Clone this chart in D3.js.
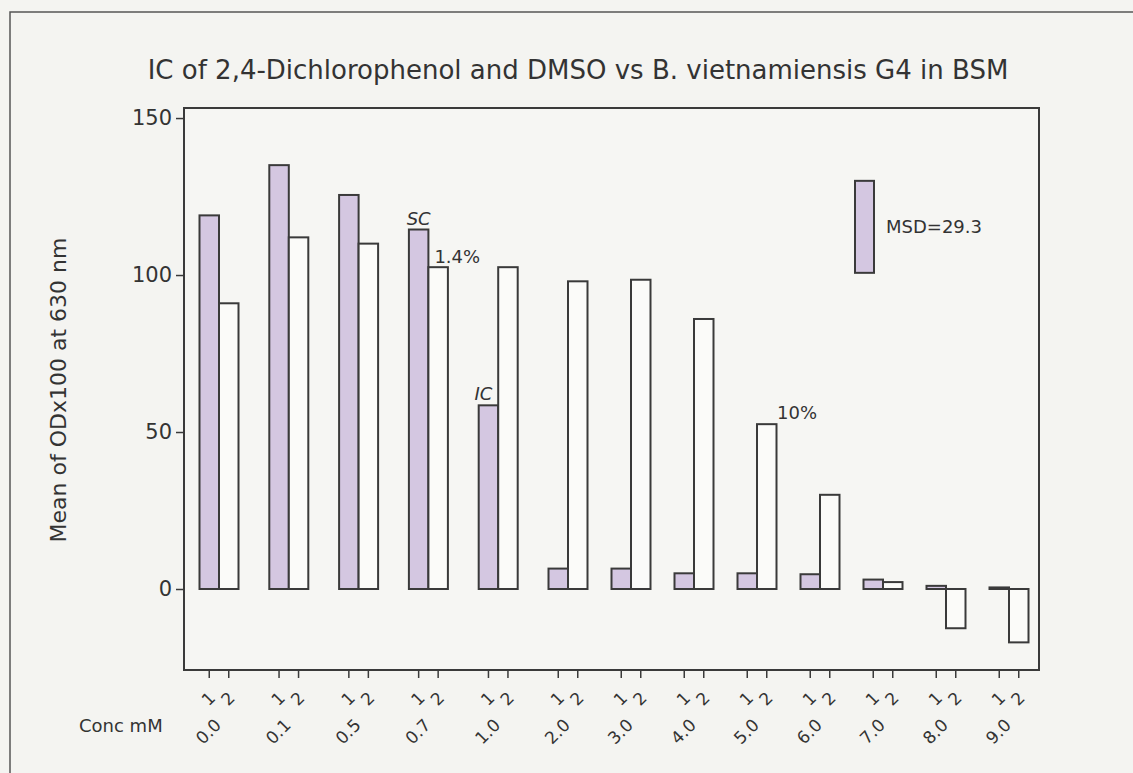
<!DOCTYPE html>
<html>
<head>
<meta charset="utf-8">
<script src="https://cdn.jsdelivr.net/npm/d3@7"></script>
<style>
	html, body { margin: 0; padding: 0; background: #f4f4f1; }
	svg { display: block; font-family: "DejaVu Sans", sans-serif; }
</style>
</head>
<body>
<div id="chart"></div>
<script>
// concentrations (mM) and the two series (1 = 2,4-DCP, 2 = DMSO)
var concs = ["0.0", "0.1", "0.5", "0.7", "1.0", "2.0", "3.0", "4.0", "5.0", "6.0", "7.0", "8.0", "9.0"];
var seriesKeys = ["1", "2"];
var series1 = [119, 135, 125.5, 114.5, 58.5, 6.5, 6.5, 5, 5, 4.7, 3, 1, 0.5];
var series2 = [91, 112, 110, 102.5, 102.5, 98, 98.5, 86, 52.5, 30, 2.2, -12.5, -17];
var yTicks = [0, 50, 100, 150];
var msdValue = 29.3;
var msdTop = 130;
var notes = [
	{text: "SC", conc: "0.7", key: "1", italic: true},
	{text: "1.4%", conc: "0.7", key: "2", italic: false},
	{text: "IC", conc: "1.0", key: "1", italic: true},
	{text: "10%", conc: "5.0", key: "2", italic: false}
];

var W = 1133, H = 773,
	plot = {left: 184, top: 108, right: 1039, bottom: 670},
	ink = "#3a3a3a",
	fillPurple = "#d4c7e1";

var svg = d3.select("#chart").append("svg")
	.attr("width", W)
	.attr("height", H);

svg.append("rect")
	.attr("width", W).attr("height", H)
	.attr("fill", "#f4f4f1");

// outer frame (runs off the right/bottom of the scan)
svg.append("rect")
	.attr("x", 10).attr("y", 12)
	.attr("width", W + 20).attr("height", H + 20)
	.attr("fill", "none")
	.attr("stroke", "#555").attr("stroke-width", 1.5);

svg.append("text")
	.attr("x", 578).attr("y", 79)
	.attr("text-anchor", "middle")
	.attr("font-size", 26)
	.attr("fill", "#333")
	.text("IC of 2,4-Dichlorophenol and DMSO vs B. vietnamiensis G4 in BSM");

var y = d3.scaleLinear()
	.domain([-25.8, 153.2])
	.range([plot.bottom, plot.top]);

// group centres: the scanned axis is slightly stretched on the left
var xi = d3.scaleLinear()
	.domain([0, 5, concs.length - 1])
	.range([219, 568, 1009]);
var x = function(c) { return xi(concs.indexOf(c)); };

var xs = d3.scaleBand()
	.domain(seriesKeys)
	.range([-19.5, 19.5])
	.padding(0);

// plot frame
svg.append("rect")
	.attr("x", plot.left).attr("y", plot.top)
	.attr("width", plot.right - plot.left)
	.attr("height", plot.bottom - plot.top)
	.attr("fill", "#f6f6f3")
	.attr("stroke", ink).attr("stroke-width", 2);

// y axis
var yAxis = svg.append("g")
	.attr("transform", "translate(" + plot.left + ",0)")
	.call(d3.axisLeft(y).tickValues(yTicks).tickSize(8).tickPadding(4));
yAxis.select(".domain").remove();
yAxis.selectAll("line").attr("stroke", ink).attr("stroke-width", 1.5);
yAxis.selectAll("text")
	.attr("font-size", 21)
	.attr("fill", "#333")
	.attr("font-family", "DejaVu Sans, sans-serif");

svg.append("text")
	.attr("transform", "translate(66,390) rotate(-90)")
	.attr("text-anchor", "middle")
	.attr("font-size", 22)
	.attr("fill", "#333")
	.text("Mean of ODx100 at 630 nm");

// bars
var rows = [];
concs.forEach(function(c, i) {
	rows.push({conc: c, key: "1", value: series1[i]});
	rows.push({conc: c, key: "2", value: series2[i]});
});

svg.append("g").selectAll("rect")
	.data(rows)
	.join("rect")
	.attr("x", function(d) { return x(d.conc) + xs(d.key); })
	.attr("width", xs.bandwidth())
	.attr("y", function(d) { return y(Math.max(0, d.value)); })
	.attr("height", function(d) { return Math.abs(y(d.value) - y(0)); })
	.attr("fill", function(d) { return d.key == "1" ? fillPurple : "#fbfbf9"; })
	.attr("stroke", ink)
	.attr("stroke-width", 2);

// x ticks and labels
var xg = svg.append("g");
xg.selectAll("line")
	.data(rows)
	.join("line")
	.attr("x1", function(d) { return x(d.conc) + xs(d.key) + xs.bandwidth() / 2; })
	.attr("x2", function(d) { return x(d.conc) + xs(d.key) + xs.bandwidth() / 2; })
	.attr("y1", plot.bottom)
	.attr("y2", plot.bottom + 8)
	.attr("stroke", ink).attr("stroke-width", 1.5);

xg.selectAll("text.key")
	.data(rows)
	.join("text")
	.attr("class", "key")
	.attr("transform", function(d) {
		var tx = x(d.conc) + xs(d.key) + xs.bandwidth() / 2 + 3;
		return "translate(" + tx + "," + (plot.bottom + 25) + ") rotate(-45)";
	})
	.attr("dy", "0.35em")
	.attr("text-anchor", "end")
	.attr("font-size", 17)
	.attr("fill", "#333")
	.text(function(d) { return d.key; });

xg.selectAll("text.conc")
	.data(concs)
	.join("text")
	.attr("class", "conc")
	.attr("transform", function(d) {
		return "translate(" + (x(d) - 1) + "," + (plot.bottom + 52) + ") rotate(-45)";
	})
	.attr("dy", "0.35em")
	.attr("text-anchor", "end")
	.attr("font-size", 17)
	.attr("fill", "#333")
	.text(function(d) { return d; });

svg.append("text")
	.attr("x", 79).attr("y", 732)
	.attr("font-size", 18)
	.attr("fill", "#333")
	.text("Conc mM");

// annotations
var noteOffset = {"SC": [0, -5, "middle"], "1.4%": [6, -4, "start"], "IC": [-5, -5, "middle"], "10%": [20, -5, "start"]};
svg.append("g").selectAll("text")
	.data(notes)
	.join("text")
	.attr("x", function(d) {
		var o = noteOffset[d.text];
		var bx = x(d.conc) + xs(d.key);
		return o[2] == "middle" ? bx + xs.bandwidth() / 2 + o[0] : bx + o[0];
	})
	.attr("y", function(d) {
		var i = concs.indexOf(d.conc);
		var v = d.key == "1" ? series1[i] : series2[i];
		return y(v) + noteOffset[d.text][1];
	})
	.attr("text-anchor", function(d) { return noteOffset[d.text][2]; })
	.attr("font-style", function(d) { return d.italic ? "italic" : "normal"; })
	.attr("font-size", 18)
	.attr("fill", "#333")
	.text(function(d) { return d.text; });

// MSD bar
svg.append("rect")
	.attr("x", 855)
	.attr("y", y(msdTop))
	.attr("width", 19)
	.attr("height", y(msdTop - msdValue) - y(msdTop))
	.attr("fill", fillPurple)
	.attr("stroke", ink)
	.attr("stroke-width", 2);

svg.append("text")
	.attr("x", 886)
	.attr("y", y(msdTop - msdValue / 2))
	.attr("dy", "0.35em")
	.attr("font-size", 18)
	.attr("fill", "#333")
	.text("MSD=" + msdValue);
</script>
</body>
</html>
